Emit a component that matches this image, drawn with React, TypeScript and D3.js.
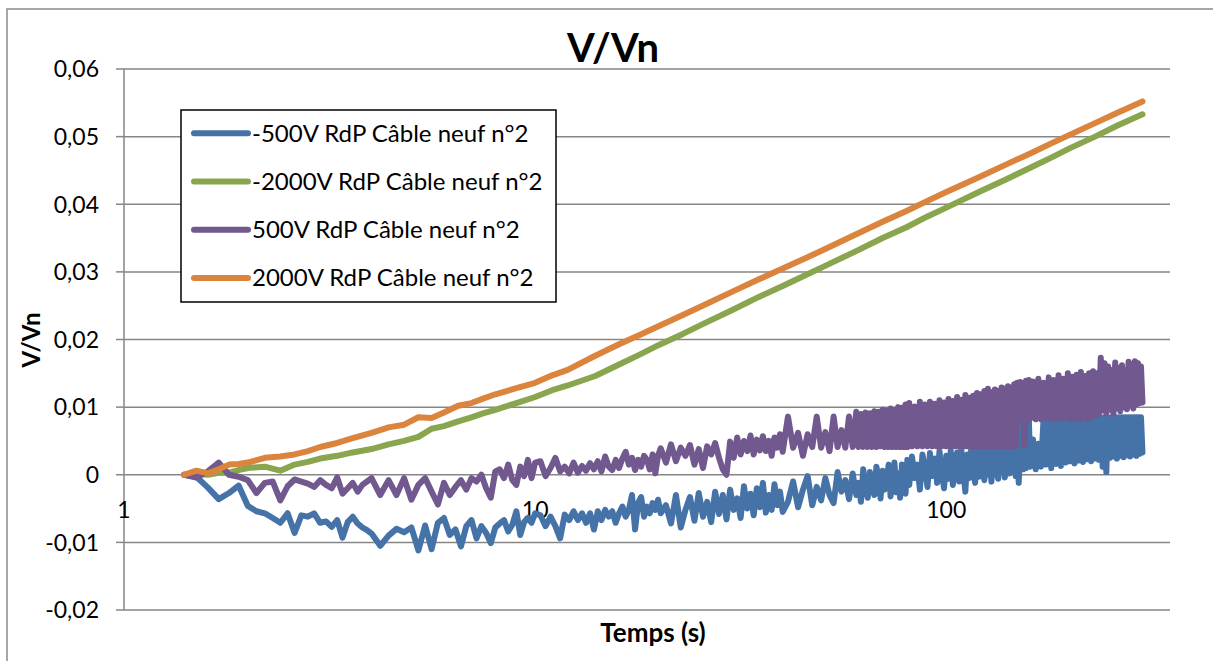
import React from 'react';
import * as d3 from 'd3';

// ---- Data ----
// Sample times (s) shared by the two noisy series
const temps = [
  1.4, 1.5, 1.6, 1.7, 1.8, 1.9, 2, 2.1, 2.2, 2.3, 2.4, 2.5, 2.6, 2.7, 2.8, 2.9, 3, 3.1, 3.2, 3.3, 3.4, 3.5, 3.6, 3.7, 3.8, 3.9, 4,
  4.2, 4.4, 4.6, 4.8, 5, 5.2, 5.4, 5.6, 5.8, 6, 6.2, 6.4, 6.6, 6.8, 7, 7.2, 7.4, 7.6, 7.8, 8, 8.2, 8.4, 8.6, 8.8, 9, 9.2, 9.4, 9.6, 9.8, 10,
  10.3, 10.6, 10.9, 11.2, 11.5, 11.8, 12.1, 12.4, 12.7, 13, 13.3, 13.6, 13.9, 14.2, 14.5, 14.8, 15.1, 15.4, 15.7, 16, 16.3, 16.6, 16.9, 17.2, 17.5, 17.8, 18.1, 18.4, 18.7, 19, 19.3, 19.6, 19.9, 20.2,
  20.8, 21.4, 22, 22.6, 23.2, 23.8, 24.4, 25, 25.6, 26.2, 26.8, 27.4, 28, 28.6, 29.2, 29.8, 30.4, 31, 31.6, 32.2, 32.8, 33.4, 34, 34.6, 35.2, 35.8, 36.4, 37, 37.6, 38.2, 38.8, 39.4, 40,
  41.2, 42.4, 43.6, 44.8, 46, 47.2, 48.4, 49.6, 50.8, 52, 53.2, 54.4, 55.6, 56.8, 58, 59.2, 60.4,
  61.2, 62, 62.8, 63.6, 64.4, 65.2, 66, 66.8, 67.6, 68.4, 69.2, 70, 70.8, 71.6, 72.4, 73.2, 74, 74.8, 75.6, 76.4, 77.2, 78, 78.8, 79.6, 80.4,
  81.25, 82.5, 83.75, 85, 86.25, 87.5, 88.75, 90, 91.25, 92.5, 93.75, 95, 96.25, 97.5, 98.75, 100, 101.25, 102.5, 103.75, 105, 106.25, 107.5, 108.75, 110, 111.25, 112.5, 113.75, 115, 116.25, 117.5, 118.75, 120,
  121.25, 122.5, 123.75, 125, 126.25, 127.5, 128.75, 130, 131.25, 132.5, 133.75, 135, 136.25, 137.5, 138.75, 140, 141.25, 142.5, 143.75, 145, 146.25, 147.5, 148.75, 150, 151.25, 152.5, 153.75, 155, 156.25, 157.5, 158.75, 160,
  162.5, 165, 167.5, 170, 172.5, 175, 177.5, 180, 182.5, 185, 187.5, 190, 192.5, 195, 197.5, 200, 202.5, 205, 207.5, 210, 212.5, 215, 217.5, 220, 222.5, 225, 227.5, 230, 232.5, 235, 237.5, 240, 242.5, 245, 247.5, 250, 252.5, 255, 257.5, 260, 262.5, 265, 267.5, 270, 272.5, 275, 277.5, 280, 282.5, 285, 287.5, 290, 292.5, 295, 297.5, 300,
];

// -500V RdP Câble neuf n°2
const moins500V = [
  0, -0.0003, -0.0019, -0.0036, -0.0027, -0.0016, -0.0046, -0.0054, -0.0057, -0.0064, -0.0071, -0.0057, -0.0086, -0.006, -0.0062, -0.0057, -0.0071, -0.0069, -0.0077, -0.0067, -0.0093, -0.007, -0.0062, -0.0072, -0.0078, -0.0082, -0.0087,
  -0.0105, -0.009, -0.008, -0.0085, -0.0078, -0.0112, -0.0075, -0.011, -0.0071, -0.0064, -0.0089, -0.0081, -0.0106, -0.0076, -0.0067, -0.0094, -0.0076, -0.0086, -0.0101, -0.0078, -0.0072, -0.0067, -0.0084, -0.0074, -0.0054, -0.0089, -0.007, -0.0064, -0.0071, -0.0057,
  -0.006, -0.0076, -0.0062, -0.0076, -0.0094, -0.0059, -0.0067, -0.0054, -0.0067, -0.0057, -0.0071, -0.0057, -0.0081, -0.0054, -0.0067, -0.0052, -0.0062, -0.0054, -0.0071, -0.0057, -0.0047, -0.0062, -0.0052, -0.003, -0.0081, -0.0042, -0.0033, -0.0062, -0.0047, -0.0057, -0.0042, -0.0052, -0.0037, -0.0057,
  -0.0045, -0.0072, -0.003, -0.0078, -0.0052, -0.0033, -0.0068, -0.0027, -0.0062, -0.004, -0.007, -0.0025, -0.0058, -0.003, -0.0066, -0.0022, -0.0052, -0.0035, -0.0064, -0.0017, -0.005, -0.0028, -0.006, -0.002, -0.0048, -0.0012, -0.0056, -0.003, -0.0052, -0.0014, -0.0045, -0.0025, -0.0055,
  -0.004, -0.001, -0.0048, -0.0022, -0.0002, -0.0045, -0.0018, -0.0038, -0.0005, -0.003, -0.0042, 0.0004, -0.0025, -0.0008, -0.0036, 0.0002, -0.003,
  -0.0012, -0.004, 0.0008, -0.002, -0.0034, 0.0004, -0.0015, -0.003, 0.0012, -0.0005, -0.0035, 0.0006, -0.0022, -0.0008, 0.0015, -0.0032, -0.0012, 0.0018, -0.0026, 0.0002, -0.0034, 0.0015, -0.001, -0.0028, 0.0022,
  -0.0015, 0.0027, -0.0005, 0.0015, -0.0022, 0.003, 0.0008, -0.0018, 0.0032, -0.0002, 0.0024, -0.0012, 0.0035, 0.0002, -0.002, 0.0028, -0.0006, 0.0036, -0.0015, 0.002, 0.0033, -0.001, 0.0038, 0.0004, -0.0025, 0.003, -0.0005, 0.004, 0.0008, -0.0012, 0.0036, -0.0003,
  0.0042, 0.001, -0.0008, 0.004, 0, 0.0044, -0.001, 0.0028, 0.0045, 0.0004, -0.0006, 0.0043, 0.001, 0.0047, -0.0004, 0.0038, 0.0048, 0.0002, 0.0045, 0.0012, 0.005, -0.0002, 0.005, -0.0012, 0.0035, 0.0083, 0.0008, 0.0083, 0.001, 0.005, 0.0083, 0.0012,
  0.0052, 0.0008, 0.0046, 0.0012, 0.0085, 0.0015, 0.0085, 0.001, 0.0085, 0.0016, 0.0085, 0.0013, 0.0085, 0.0018, 0.0085, 0.002, 0.0085, 0.0017, 0.0085, 0.0021, 0.0085, 0.0019, 0.0085, 0.0023, 0.0085, 0.002, 0.0085, 0.0024, 0.0085, 0.0022, 0.0085, 0.0012, 0.0085, 0.0004, 0.0085, 0.0025, 0.0085, 0.0027, 0.0085, 0.0024, 0.0085, 0.0028, 0.0085, 0.0026, 0.0085, 0.0029, 0.0085, 0.0027, 0.0085, 0.003, 0.0085, 0.0028, 0.0085, 0.0031, 0.0085, 0.0033,
];

// 500V RdP Câble neuf n°2
const plus500V = [
  0, -0.0004, 0.0005, 0.0018, 0, -0.0003, -0.0008, -0.0027, -0.0012, -0.001, -0.0038, -0.0017, -0.0007, -0.001, -0.0013, -0.0018, -0.0008, -0.0015, -0.002, -0.0004, -0.0028, -0.002, -0.0012, -0.0025, -0.0015, -0.001, -0.0005,
  -0.003, -0.0008, -0.003, -0.0005, -0.0037, -0.0015, -0.0005, -0.0025, -0.0044, -0.0012, -0.003, -0.0018, -0.0008, -0.0022, -0.0005, -0.001, 0, -0.002, -0.0034, 0.0005, 0.0008, -0.0005, 0.0015, -0.0008, -0.0015, 0.0012, -0.0002, 0.0022, -0.0005, 0.0018,
  0.002, -0.0002, 0.001, 0.0025, 0.0005, 0.0012, 0.0002, 0.0018, 0.0003, 0.0013, 0.0006, 0.0017, 0.0008, 0.002, 0.0005, 0.0027, 0.0012, 0.0007, 0.0022, 0.001, 0.0024, 0.0034, 0.0015, 0.0025, 0.0007, 0.0022, 0.0012, 0.0028, 0.0022, 0.0008, 0.003, 0.0002, 0.0028, 0.0039,
  0.0018, 0.0045, 0.002, 0.004, 0.0028, 0.0044, 0.0015, 0.0038, 0.001, 0.0042, 0.003, 0.0047, 0.0025, 0.0008, 0, 0.0049, 0.0025, 0.0055, 0.003, 0.005, 0.0035, 0.0058, 0.003, 0.0052, 0.0036, 0.0057, 0.0035, 0.005, 0.0028, 0.0055, 0.004, 0.006, 0.0034,
  0.0086, 0.004, 0.0062, 0.0028, 0.006, 0.0041, 0.0086, 0.004, 0.0063, 0.0035, 0.0086, 0.0041, 0.0066, 0.004, 0.0086, 0.0041, 0.0093,
  0.0041, 0.009, 0.0041, 0.0092, 0.0041, 0.0091, 0.0041, 0.0094, 0.0041, 0.0093, 0.0042, 0.0096, 0.0041, 0.0095, 0.0041, 0.0098, 0.0041, 0.0096, 0.0041, 0.01, 0.0041, 0.0099, 0.0041, 0.0104, 0.0041,
  0.0106, 0.0042, 0.0101, 0.0042, 0.0108, 0.0042, 0.0104, 0.0042, 0.0108, 0.0042, 0.0105, 0.0042, 0.011, 0.0042, 0.0107, 0.0042, 0.0112, 0.0042, 0.0109, 0.0042, 0.0115, 0.0042, 0.0111, 0.0042, 0.0118, 0.0042, 0.0114, 0.0042, 0.0117, 0.0042, 0.0121, 0.0042,
  0.0119, 0.0042, 0.0124, 0.0042, 0.0127, 0.0042, 0.0122, 0.0042, 0.0126, 0.0042, 0.0124, 0.0042, 0.0129, 0.0042, 0.0127, 0.0042, 0.0131, 0.0042, 0.0129, 0.0042, 0.0134, 0.0042, 0.0136, 0.0082, 0.0137, 0.008, 0.0135, 0.0044, 0.0139, 0.0082, 0.014, 0.0083,
  0.0138, 0.0082, 0.0142, 0.0082, 0.0136, 0.0085, 0.0144, 0.0082, 0.014, 0.0083, 0.0147, 0.0082, 0.0142, 0.0085, 0.015, 0.0082, 0.0145, 0.0084, 0.0148, 0.0082, 0.0152, 0.0086, 0.0146, 0.0082, 0.015, 0.0085, 0.0153, 0.0088, 0.015, 0.009, 0.0173, 0.0095, 0.0165, 0.0092, 0.016, 0.0096, 0.0155, 0.009, 0.0166, 0.0098, 0.0158, 0.0094, 0.0162, 0.01, 0.0154, 0.0097, 0.0167, 0.0102, 0.0163, 0.0098, 0.0168, 0.0104, 0.0165, 0.0106, 0.016, 0.0107,
];

// Sample times (s) for the two smoother series
const tempsHaut = [
  1.4, 1.5, 1.6, 1.7, 1.8, 1.9, 2, 2.2, 2.4, 2.6, 2.8, 3, 3.3, 3.6, 4, 4.4, 4.8, 5.2, 5.6, 6, 6.5, 7, 7.5, 8, 9, 10,
  11, 12, 14, 16, 18, 20, 23, 26, 30, 35, 40, 45, 50, 60, 70, 80, 90, 100, 120, 140, 160, 180, 200, 230, 260, 300,
];

// -2000V RdP Câble neuf n°2
const moins2000V = [
  0, 0.0001, 0, 0.0003, 0.0003, 0.0007, 0.001, 0.0012, 0.0006, 0.0015,
  0.0019, 0.0024, 0.0028, 0.0033, 0.0038, 0.0045, 0.005, 0.0056, 0.0068, 0.0072,
  0.0079, 0.0085, 0.0091, 0.0096, 0.0106, 0.0115, 0.0125, 0.0132, 0.0146, 0.0163,
  0.0178, 0.0192, 0.0209, 0.0225, 0.0243, 0.0263, 0.0279, 0.0294, 0.0307, 0.033,
  0.035, 0.0366, 0.0382, 0.0395, 0.0418, 0.0437, 0.0454, 0.0469, 0.0483, 0.05,
  0.0516, 0.0533,
];

// 2000V RdP Câble neuf n°2
const plus2000V = [
  0, 0.0006, 0.0002, 0.0008, 0.0015, 0.0016, 0.0018, 0.0025, 0.0027, 0.003,
  0.0035, 0.0041, 0.0047, 0.0054, 0.0062, 0.007, 0.0074, 0.0085, 0.0084, 0.0092,
  0.0102, 0.0106, 0.0113, 0.0119, 0.0128, 0.0136, 0.0147, 0.0155, 0.0176, 0.0193,
  0.0207, 0.022, 0.0237, 0.0252, 0.027, 0.0289, 0.0305, 0.0319, 0.0332, 0.0355,
  0.0374, 0.039, 0.0405, 0.0418, 0.044, 0.0459, 0.0475, 0.049, 0.0503, 0.052,
  0.0535, 0.0552,
];

const legendNames = [
  '-500V RdP Câble neuf n°2',
  '-2000V RdP Câble neuf n°2',
  '500V RdP Câble neuf n°2',
  '2000V RdP Câble neuf n°2',
];
const seriesColors = ['#4572A7', '#89A54E', '#71588F', '#DB843D'];
const yTickValues = [-0.02, -0.01, 0, 0.01, 0.02, 0.03, 0.04, 0.05, 0.06];
const xTickValues = [1, 10, 100];

const FONT = "Lato, 'Open Sans', 'DejaVu Sans', sans-serif";
const GRID = '#868686';

export default function App() {
  const x = d3.scaleLog().domain([1, 350]).range([124, 1170]);
  const y = d3.scaleLinear().domain([-0.02, 0.06]).range([610, 69]);

  const series = [
    { name: legendNames[0], color: seriesColors[0], t: temps, v: moins500V },
    { name: legendNames[1], color: seriesColors[1], t: tempsHaut, v: moins2000V },
    { name: legendNames[2], color: seriesColors[2], t: temps, v: plus500V },
    { name: legendNames[3], color: seriesColors[3], t: tempsHaut, v: plus2000V },
  ];

  const pathFor = (t: number[], v: number[]) =>
    d3
      .line<number>()
      .defined((d, i) => d != null && t[i] != null)
      .x((_, i) => x(t[i]))
      .y((d) => y(d))(v) || '';

  const fmt = (v: number) => (Math.abs(v) < 1e-9 ? '0' : v.toFixed(2).replace('.', ','));

  const [x0, x1] = x.range();
  const [yb, yt] = y.range();

  return (
    <svg
      width={1213}
      height={661}
      style={{ position: 'absolute', left: 0, top: 0, background: '#fff' }}
      fontFamily={FONT}
    >
      <rect x={0} y={0} width={1213} height={661} fill="#fff" />
      {/* chart border */}
      <rect x={7} y={9} width={1300} height={800} fill="none" stroke="#8a8a8a" strokeWidth={1.5} />

      {/* title */}
      <text x={613} y={62} textAnchor="middle" fontWeight="bold" fontSize={40} fill="#000">
        V/Vn
      </text>

      {/* gridlines */}
      {yTickValues.map((v) => (
        <line key={'g' + v} x1={x0} x2={x1} y1={y(v)} y2={y(v)} stroke={GRID} strokeWidth={1.5} />
      ))}
      {/* y axis */}
      <line x1={x0} x2={x0} y1={yt} y2={yb} stroke={GRID} strokeWidth={1.5} />
      {yTickValues.map((v) => (
        <g key={'t' + v}>
          <line x1={x0 - 8} x2={x0} y1={y(v)} y2={y(v)} stroke={GRID} strokeWidth={1.5} />
          <text x={99} y={y(v)} dy="0.36em" textAnchor="end" fontSize={23} fill="#000">
            {fmt(v)}
          </text>
        </g>
      ))}
      {/* x tick labels (axis crosses at 0) */}
      {xTickValues.map((t) => (
        <text key={'x' + t} x={x(t)} y={518} textAnchor="middle" fontSize={23} fill="#000">
          {t}
        </text>
      ))}

      {/* series */}
      {series.map((s) => (
        <path
          key={s.name}
          d={pathFor(s.t, s.v)}
          fill="none"
          stroke={s.color}
          strokeWidth={6}
          strokeLinejoin="round"
          strokeLinecap="round"
        />
      ))}

      {/* axis titles */}
      <text x={653} y={642} textAnchor="middle" fontWeight="bold" fontSize={26} fill="#000">
        Temps (s)
      </text>
      <text transform="translate(40,340) rotate(-90)" textAnchor="middle" fontWeight="bold" fontSize={24} fill="#000">
        V/Vn
      </text>

      {/* legend */}
      <rect x={181} y={110} width={375} height={192} fill="#fff" stroke="#000" strokeWidth={1.5} />
      {series.map((s, i) => {
        const ly = 133.3 + i * 48.2;
        return (
          <g key={'l' + i}>
            <line x1={194} x2={248} y1={ly} y2={ly} stroke={s.color} strokeWidth={6} strokeLinecap="round" />
            <text x={252} y={ly + 8.5} fontSize={24} fill="#000">
              {s.name}
            </text>
          </g>
        );
      })}
    </svg>
  );
}
